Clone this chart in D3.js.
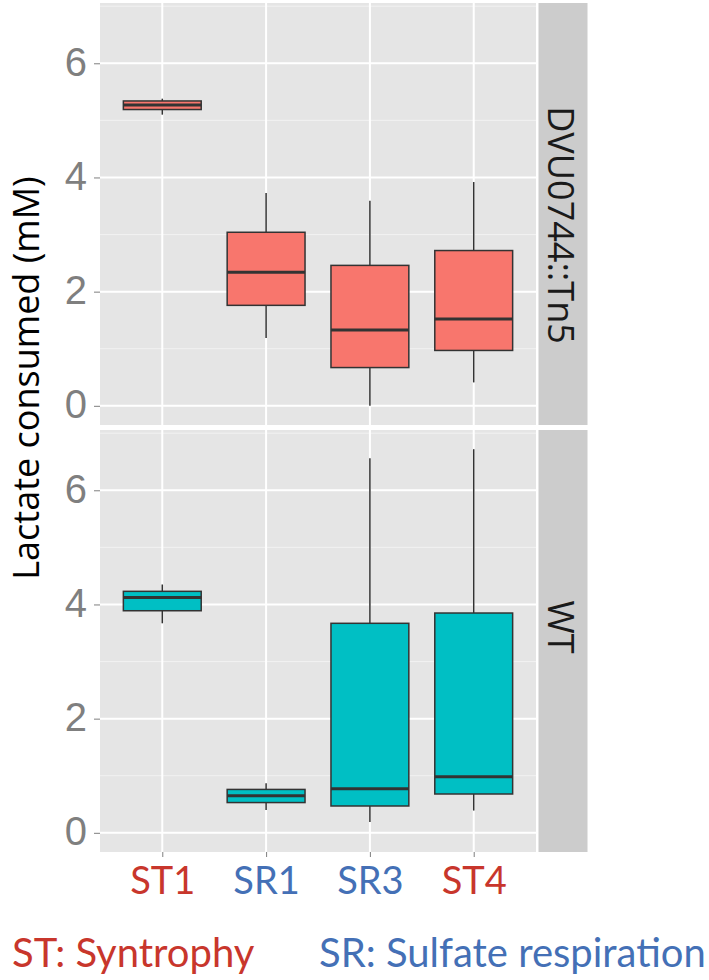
<!DOCTYPE html>
<html>
<head>
<meta charset="utf-8">
<script src="https://cdn.jsdelivr.net/npm/d3@7"></script>
<style>
  body { margin: 0; background: #fff; }
  text { font-family: "Open Sans", sans-serif; }
</style>
</head>
<body>
<div id="viz"></div>
<script>
const width = 709;
const height = 980;

// categories and facets
const categories = ["ST1", "SR1", "SR3", "ST4"];
const facets = ["DVU0744::Tn5", "WT"];

// five number summaries [min, q1, median, q3, max]
const tn5Stats = [
  [5.10, 5.19, 5.27, 5.34, 5.38],
  [1.19, 1.76, 2.34, 3.04, 3.73],
  [0.00, 0.67, 1.33, 2.46, 3.59],
  [0.41, 0.97, 1.52, 2.72, 3.92]
];
const wtStats = [
  [3.67, 3.89, 4.12, 4.23, 4.35],
  [0.40, 0.53, 0.65, 0.76, 0.87],
  [0.19, 0.47, 0.77, 3.67, 6.56],
  [0.39, 0.68, 0.98, 3.85, 6.72]
];
const yTicks = [0, 2, 4, 6];
const yMinor = [1, 3, 5, 7];
const legendItems = ["ST: Syntrophy", "SR: Sulfate respiration"];

const facetStats = [tn5Stats, wtStats];
const facetFill = ["#F8766D", "#00BFC4"];
const labelColor = { ST: "#C8362C", SR: "#4470B6" };

// layout
const panelLeft = 100;
const panelRight = 536;
const panelTops = [3, 430];
const panelH = 422;
const stripX = 538.5;
const stripW = 49;

const svg = d3.select("#viz")
  .append("svg")
  .attr("width", width)
  .attr("height", height);

svg.append("rect")
  .attr("width", width)
  .attr("height", height)
  .attr("fill", "#fff");

const x = d3.scalePoint()
  .domain(categories)
  .range([panelLeft, panelRight])
  .padding(0.6);
const boxW = x.step() * 0.75;

// shared y domain with ggplot's 5% expansion
const allVals = facetStats.flat(2);
const [lo, hi] = d3.extent(allVals);
const pad = (hi - lo) * 0.05;

facets.forEach((facet, fi) => {
  const top = panelTops[fi];
  const y = d3.scaleLinear()
    .domain([lo - pad, hi + pad])
    .range([top + panelH, top]);

  const g = svg.append("g");

  g.append("rect")
    .attr("x", panelLeft)
    .attr("y", top)
    .attr("width", panelRight - panelLeft)
    .attr("height", panelH)
    .attr("fill", "#E5E5E5");

  // grid
  g.selectAll(".minor")
    .data(yMinor)
    .join("line")
    .attr("x1", panelLeft)
    .attr("x2", panelRight)
    .attr("y1", d => y(d))
    .attr("y2", d => y(d))
    .attr("stroke", "#F2F2F2")
    .attr("stroke-width", 1);

  g.selectAll(".major")
    .data(yTicks)
    .join("line")
    .attr("x1", panelLeft)
    .attr("x2", panelRight)
    .attr("y1", d => y(d))
    .attr("y2", d => y(d))
    .attr("stroke", "#fff")
    .attr("stroke-width", 2);

  g.selectAll(".vgrid")
    .data(categories)
    .join("line")
    .attr("x1", d => x(d))
    .attr("x2", d => x(d))
    .attr("y1", top)
    .attr("y2", top + panelH)
    .attr("stroke", "#fff")
    .attr("stroke-width", 2);

  // boxes
  const stats = facetStats[fi];
  const boxes = g.selectAll(".box")
    .data(categories.map((c, i) => ({ cat: c, s: stats[i] })))
    .join("g");

  boxes.append("line")
    .attr("x1", d => x(d.cat))
    .attr("x2", d => x(d.cat))
    .attr("y1", d => y(d.s[4]))
    .attr("y2", d => y(d.s[3]))
    .attr("stroke", "#333")
    .attr("stroke-width", 1.5);

  boxes.append("line")
    .attr("x1", d => x(d.cat))
    .attr("x2", d => x(d.cat))
    .attr("y1", d => y(d.s[1]))
    .attr("y2", d => y(d.s[0]))
    .attr("stroke", "#333")
    .attr("stroke-width", 1.5);

  boxes.append("rect")
    .attr("x", d => x(d.cat) - boxW / 2)
    .attr("width", boxW)
    .attr("y", d => y(d.s[3]))
    .attr("height", d => y(d.s[1]) - y(d.s[3]))
    .attr("fill", facetFill[fi])
    .attr("stroke", "#333")
    .attr("stroke-width", 1.5);

  boxes.append("line")
    .attr("x1", d => x(d.cat) - boxW / 2)
    .attr("x2", d => x(d.cat) + boxW / 2)
    .attr("y1", d => y(d.s[2]))
    .attr("y2", d => y(d.s[2]))
    .attr("stroke", "#333")
    .attr("stroke-width", 3);

  // y axis
  const yAxis = g.append("g")
    .attr("transform", `translate(${panelLeft},0)`)
    .call(d3.axisLeft(y).tickValues(yTicks).tickSize(6).tickPadding(7));
  yAxis.select(".domain").remove();
  yAxis.selectAll(".tick line").attr("stroke", "#7F7F7F");
  yAxis.selectAll(".tick text")
    .attr("fill", "#7F7F7F")
    .style("font-family", "'Liberation Sans', Arial, sans-serif")
    .style("font-size", "40px")
    .attr("dy", "0.3em");

  // strip
  g.append("rect")
    .attr("x", stripX)
    .attr("y", top)
    .attr("width", stripW)
    .attr("height", panelH)
    .attr("fill", "#CCCCCC");

  const stripCy = fi === 0 ? 225 : 627;
  g.append("text")
    .attr("transform", `translate(${stripX + 9},${stripCy}) rotate(90)`)
    .attr("text-anchor", "middle")
    .attr("fill", "#1A1A1A")
    .style("font-size", "36px")
    .text(facet);

  // x axis on the bottom panel
  if (fi === facets.length - 1) {
    const xAxis = g.append("g")
      .attr("transform", `translate(0,${top + panelH})`)
      .call(d3.axisBottom(x).tickSize(5).tickPadding(0));
    xAxis.select(".domain").remove();
    xAxis.selectAll(".tick line").attr("stroke", "#7F7F7F");
    xAxis.selectAll(".tick text")
      .attr("y", 42)
      .attr("dy", 0)
      .attr("fill", d => labelColor[d.slice(0, 2)])
      .style("font-family", "Lato, sans-serif")
      .style("font-size", "38px");
  }
});

// y axis title
svg.append("text")
  .attr("transform", `translate(38.5,378) rotate(-90)`)
  .attr("text-anchor", "middle")
  .attr("fill", "#000")
  .style("font-size", "36px")
  .text("Lactate consumed (mM)");

// legend captions
svg.selectAll(".legend")
  .data(legendItems)
  .join("text")
  .attr("x", (d, i) => i === 0 ? 12 : 319)
  .attr("y", 967)
  .attr("fill", d => labelColor[d.slice(0, 2)])
  .style("font-family", "Lato, sans-serif")
  .style("font-size", "40px")
  .text(d => d);
</script>
</body>
</html>
